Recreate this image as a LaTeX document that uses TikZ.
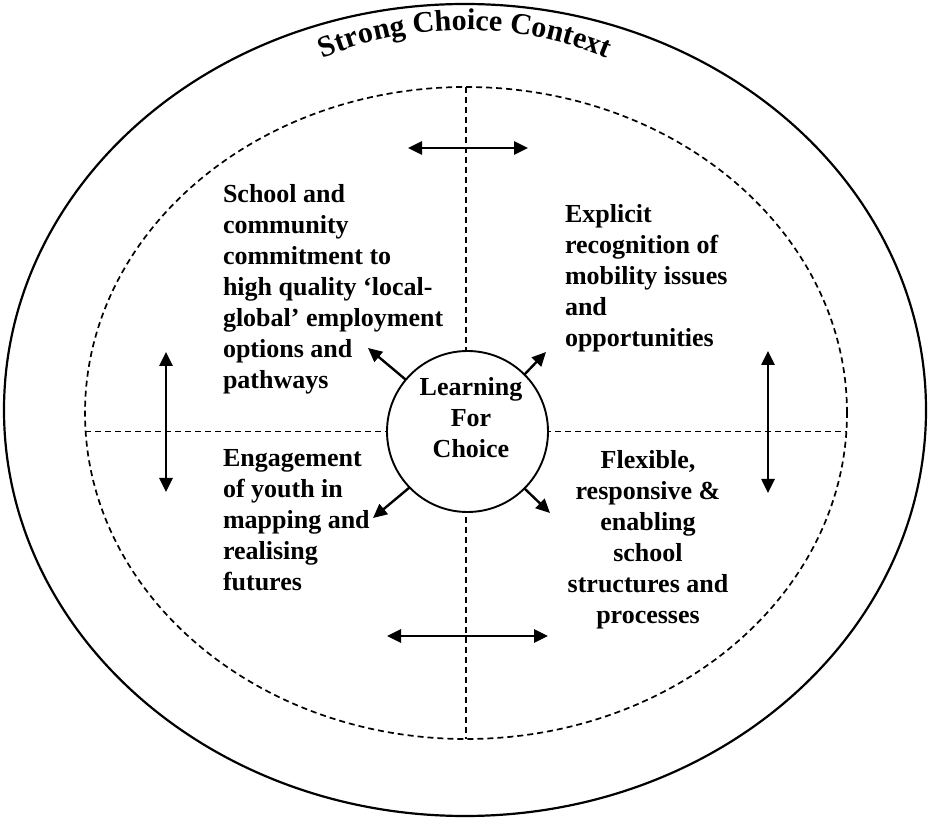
\documentclass[tikz,border=0pt]{standalone}
\usepackage{fontspec}
\setmainfont{Liberation Serif}
\usetikzlibrary{arrows.meta,shapes.geometric,decorations.text}

\begin{document}
\begin{tikzpicture}[x=1pt, y=1pt,
    every node/.style={inner sep=0pt, outer sep=0pt},
    quadtext/.style={font=\fontsize{26}{31}\selectfont\bfseries, align=left},
    quarter/.style={dash pattern=on 6pt off 4pt, line width=1.7pt},
    twoway/.style={{Triangle[length=14pt,width=13pt]}-{Triangle[length=14pt,width=13pt]}, line width=2.6pt},
    outward/.style={-{Triangle[length=14pt,width=13pt]}, line width=2.4pt}]

  \useasboundingbox (0,0) rectangle (929,820);

  % Outer ring and its title
  \node (ctx)[draw, ellipse, line width=2.2pt, minimum width=922pt, minimum height=812pt] at (465,410) {};
  \path[decorate, decoration={text along path, text align=center,
      text={|\fontsize{30}{30}\selectfont\bfseries|Strong Choice Context}}]
      ([shift={(125:370)}]465,420) arc[start angle=125, end angle=55, radius=370];

  % Inner dashed ring and quarters
  \coordinate (hub) at (467.5,388.5);
  \node (zone)[draw, ellipse, quarter, minimum width=762pt, minimum height=652pt] at (466,407) {};
  \draw[quarter] (zone.north) -- (zone.south);
  \draw[quarter] (zone.west |- hub) -- (zone.east |- hub);

  % Centre
  \node (learn)[draw, circle, fill=white, line width=1.9pt, minimum size=161pt] at (hub) {};
  \node (lfc)[quadtext, align=center, anchor=north] at (471,443) {Learning\\For\\Choice};

  % Quarter texts
  \node (school)[quadtext, anchor=north west] at (223,636)
    {School and\\community\\commitment to\\high quality ‘local-\\global’ employment\\options and\\pathways};
  \node (mobility)[quadtext, anchor=north west] at (565,616)
    {Explicit\\recognition of\\mobility issues\\and\\opportunities};
  \node (youth)[quadtext, anchor=north west] at (223,371)
    {Engagement\\of youth in\\mapping and\\realising\\futures};
  \node (structures)[quadtext, align=center, anchor=north] at (648,370)
    {Flexible,\\responsive \&\\enabling\\school\\structures and\\processes};

  % Two-way arrows
  \coordinate (tl) at (408,672);
  \coordinate (tr) at (528,672);
  \coordinate (bl) at (387,184);
  \coordinate (br) at (548,184);
  \coordinate (lt) at (166,468);
  \coordinate (lb) at (166,328);
  \coordinate (rt) at (768,469);
  \coordinate (rb) at (768,327);
  \draw[twoway] (tl) -- (tr);
  \draw[twoway] (bl) -- (br);
  \draw[twoway] (lt) -- (lb);
  \draw[twoway] (rt) -- (rb);

  % Arrows out of the centre
  \coordinate (nw) at (368,472);
  \coordinate (ne) at (546,468);
  \coordinate (sw) at (373,302);
  \coordinate (se) at (550,307);
  \draw[outward] (learn.140) -- (nw);
  \draw[outward] (learn.45) -- (ne);
  \draw[outward] (learn.224) -- (sw);
  \draw[outward] (learn.315) -- (se);
\end{tikzpicture}
\end{document}
